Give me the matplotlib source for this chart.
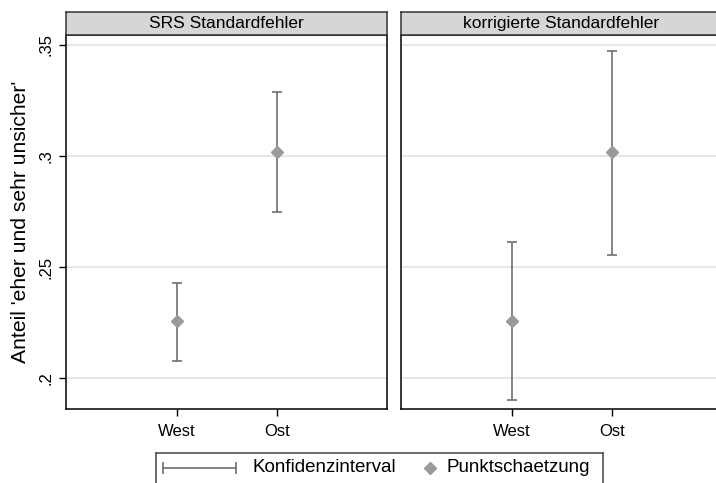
import matplotlib.pyplot as plt
from matplotlib.lines import Line2D

plt.rcParams['font.family'] = ['Liberation Sans', 'DejaVu Sans']

# data
groups = ["West", "Ost"]
panels = ["SRS Standardfehler", "korrigierte Standardfehler"]
estimate = [0.2257, 0.3018]
ci_low = {"SRS Standardfehler": [0.2078, 0.2748],
          "korrigierte Standardfehler": [0.1901, 0.2552]}
ci_high = {"SRS Standardfehler": [0.2428, 0.3290],
           "korrigierte Standardfehler": [0.2613, 0.3474]}
yticks = [0.2, 0.25, 0.3, 0.35]
ytick_labels = [".2", ".25", ".3", ".35"]

line_col = "#707070"
mark_col = "#9a9a9a"

W, H = 716, 483
fig = plt.figure(figsize=(W / 100, H / 100), dpi=100)


def fx(px):
    return px / W


def fy(py):
    return 1 - py / H


panel_left = [66, 401]
panel_w = 321
top, bottom, strip_top = 35, 409, 12
xpos = [1, 2]

for i, name in enumerate(panels):
    x0 = panel_left[i]
    ax = fig.add_axes([fx(x0), fy(bottom), panel_w / W, (bottom - top) / H])
    low = ci_low[name]
    high = ci_high[name]
    err = [[e - l for e, l in zip(estimate, low)], [h - e for e, h in zip(estimate, high)]]
    ax.errorbar(xpos, estimate, yerr=err, fmt="none", ecolor=line_col,
                elinewidth=1.2, capsize=3.8, capthick=1.2, zorder=2)
    ax.plot(xpos, estimate, "D", color=mark_col, markersize=6.5, zorder=3)
    ax.set_xlim(-0.11, 3.1)
    ax.set_ylim(0.186, 0.3545)
    ax.set_yticks(yticks)
    ax.grid(axis="y", color="#e3e3e3", linewidth=1.2)
    ax.set_axisbelow(True)
    ax.set_xticks(xpos)
    ax.set_xticklabels(groups, fontsize=12)
    ax.tick_params(axis="x", length=5, width=1, pad=6)
    if i == 0:
        ax.set_yticklabels(ytick_labels, fontsize=12, rotation=90, va="center")
        ax.tick_params(axis="y", length=5, width=1, pad=4)
        ax.set_ylabel("Anteil 'eher und sehr unsicher'", fontsize=15.2, labelpad=6)
    else:
        ax.tick_params(axis="y", length=0, labelleft=False)
    for sp in ax.spines.values():
        sp.set_linewidth(1.1)
        sp.set_color("black")

    strip = fig.add_axes([fx(x0), fy(top), panel_w / W, (top - strip_top) / H])
    strip.set_facecolor("#d6d6d6")
    strip.set_xticks([])
    strip.set_yticks([])
    for sp in strip.spines.values():
        sp.set_linewidth(1.1)
        sp.set_color("#333333")
    strip.text(0.5, 0.5, name, ha="center", va="center", fontsize=12.5,
               transform=strip.transAxes)

# legend box (bottom edge runs off the image like in the reference)
leg = fig.add_axes([fx(156), fy(500), (603 - 156) / W, (500 - 453) / H])
leg.set_xlim(156, 603)
leg.set_ylim(500, 453)
leg.set_xticks([])
leg.set_yticks([])
for sp in leg.spines.values():
    sp.set_linewidth(1.1)
    sp.set_color("#444444")
leg.add_line(Line2D([163, 236], [468, 468], color=line_col, lw=1.2))
leg.add_line(Line2D([163, 236], [468, 468], color=line_col, lw=0,
                    marker="|", markersize=8, markeredgewidth=1.2))
leg.text(252, 468, "Konfidenzinterval", fontsize=13.5, va="center", ha="left")
leg.plot([430], [468], "D", color=mark_col, markersize=6.5)
leg.text(447, 468, "Punktschaetzung", fontsize=13.5, va="center", ha="left")

fig.savefig("out.png", dpi=100)
